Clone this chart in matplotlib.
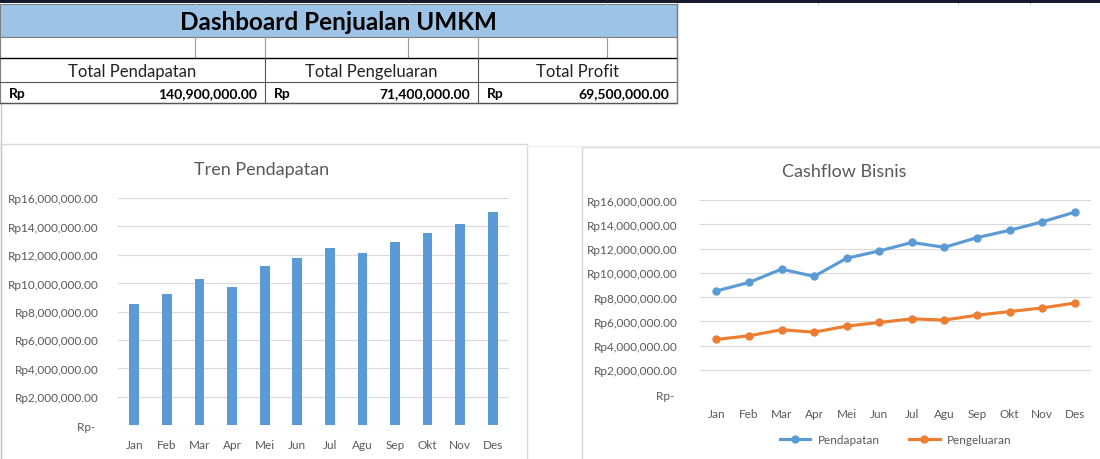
import matplotlib.pyplot as plt
from matplotlib.patches import Rectangle
from matplotlib.ticker import FuncFormatter

plt.rcParams['font.family'] = ['Lato', 'DejaVu Sans']

# data bulanan (Rp)
bulan = ['Jan', 'Feb', 'Mar', 'Apr', 'Mei', 'Jun', 'Jul', 'Agu', 'Sep', 'Okt', 'Nov', 'Des']
pendapatan = [8500000, 9200000, 10300000, 9700000, 11200000, 11800000,
              12500000, 12100000, 12900000, 13500000, 14200000, 15000000]
pengeluaran = [4500000, 4800000, 5300000, 5100000, 5600000, 5900000,
               6200000, 6100000, 6500000, 6800000, 7100000, 7500000]
y_ticks = [0, 2000000, 4000000, 6000000, 8000000, 10000000, 12000000, 14000000, 16000000]

total_pend = sum(pendapatan)
total_peng = sum(pengeluaran)
total_profit = total_pend - total_peng

biru = '#5B9BD5'
oranye = '#ED7D31'
abu = '#595959'
grid_c = '#D9D9D9'


def rupiah(v, pos=None):
    if v == 0:
        return 'Rp- '
    return 'Rp{:,.2f}'.format(v)


fig = plt.figure(figsize=(11, 4.6), dpi=100)
fig.patch.set_facecolor('white')

# lapisan latar: tabel ringkasan + bingkai grafik (koordinat piksel)
bg = fig.add_axes([0, 0, 1, 1], zorder=0)
bg.set_xlim(0, 1100)
bg.set_ylim(460, 0)
bg.axis('off')

bg.add_patch(Rectangle((0, 0), 1100, 3.5, color='#1a1a2e', lw=0))
for x in [195, 265, 408, 478, 607, 677, 818, 958, 1030]:
    bg.plot([x, x], [3.5, 6], color='#c8c8c8', lw=0.6)

# bingkai grafik
bg.add_patch(Rectangle((1, 145), 526, 320, fill=False, ec=grid_c, lw=1))
bg.add_patch(Rectangle((582, 148), 520, 320, fill=False, ec=grid_c, lw=1))
bg.plot([527, 1100], [147, 147], color='#f0f0f0', lw=1)
bg.plot([1, 1], [104, 460], color='#c8c8c8', lw=1)

# tabel
bg.add_patch(Rectangle((0, 5), 677, 33, fc='#9DC3E6', ec='#7f7f7f', lw=0.8))
bg.text(338, 22, 'Dashboard Penjualan UMKM', ha='center', va='center',
        fontsize=17.5, fontweight='bold', color='black')
bg.add_patch(Rectangle((0, 38), 677, 66, fc='white', ec='#7f7f7f', lw=0.8))
for x in [195, 265, 408, 478, 607]:
    bg.plot([x, x], [38, 59], color='#9a9a9a', lw=0.8)
bg.plot([0, 677], [59, 59], color='black', lw=1)
bg.plot([0, 677], [83, 83], color='#555555', lw=0.8)
bg.plot([0, 677], [104, 104], color='#555555', lw=1)
for x in [265, 478]:
    bg.plot([x, x], [59, 104], color='#555555', lw=0.8)
bg.plot([677, 677], [5, 104], color='#7f7f7f', lw=1)

kolom = [(0, 265, 'Total Pendapatan', total_pend),
         (265, 478, 'Total Pengeluaran', total_peng),
         (478, 677, 'Total Profit', total_profit)]
for x0, x1, judul, nilai in kolom:
    bg.text((x0 + x1) / 2, 72, judul, ha='center', va='center', fontsize=12, color='#222222')
    bg.text(x0 + 9, 94, 'Rp', ha='left', va='center', fontsize=10, fontweight='bold')
    bg.text(x1 - 8, 94, '{:,.2f}'.format(nilai), ha='right', va='center',
            fontsize=10, fontweight='bold')


def gaya_sumbu(ax):
    ax.set_ylim(0, 16000000)
    ax.set_yticks(y_ticks)
    ax.yaxis.set_major_formatter(FuncFormatter(rupiah))
    ax.set_xlim(-0.5, len(bulan) - 0.5)
    ax.set_xticks(range(len(bulan)))
    ax.set_xticklabels(bulan)
    ax.grid(axis='y', color=grid_c, lw=0.8)
    ax.set_axisbelow(True)
    for s in ax.spines.values():
        s.set_visible(False)
    ax.tick_params(length=0, colors=abu, labelsize=8.5)
    ax.tick_params(axis='y', pad=14)
    ax.tick_params(axis='x', pad=10)
    ax.patch.set_alpha(0)


# Tren Pendapatan
ax1 = fig.add_axes([0.1073, 0.0739, 0.3555, 0.4935], zorder=2)
ax1.bar(range(len(bulan)), pendapatan, width=0.3, color=biru)
gaya_sumbu(ax1)
fig.text(262 / 1100, 1 - 170 / 460, 'Tren Pendapatan', ha='center', va='center',
         fontsize=13, color=abu)

# Cashflow Bisnis
ax2 = fig.add_axes([0.6364, 0.1413, 0.3555, 0.4217], zorder=2)
ax2.plot(range(len(bulan)), pendapatan, color=biru, lw=2.25, marker='o', ms=5, label='Pendapatan')
ax2.plot(range(len(bulan)), pengeluaran, color=oranye, lw=2.25, marker='o', ms=5, label='Pengeluaran')
gaya_sumbu(ax2)
ax2.tick_params(axis='y', pad=16)
fig.text(844 / 1100, 1 - 172 / 460, 'Cashflow Bisnis', ha='center', va='center',
         fontsize=13, color=abu)
leg = ax2.legend(loc='center', bbox_to_anchor=(0.5, -0.237), ncol=2, frameon=False,
                 fontsize=8.5, handlelength=2.6, columnspacing=2.5, handletextpad=0.6)
for t in leg.get_texts():
    t.set_color(abu)

fig.savefig('out.png', dpi=100, facecolor='white')
